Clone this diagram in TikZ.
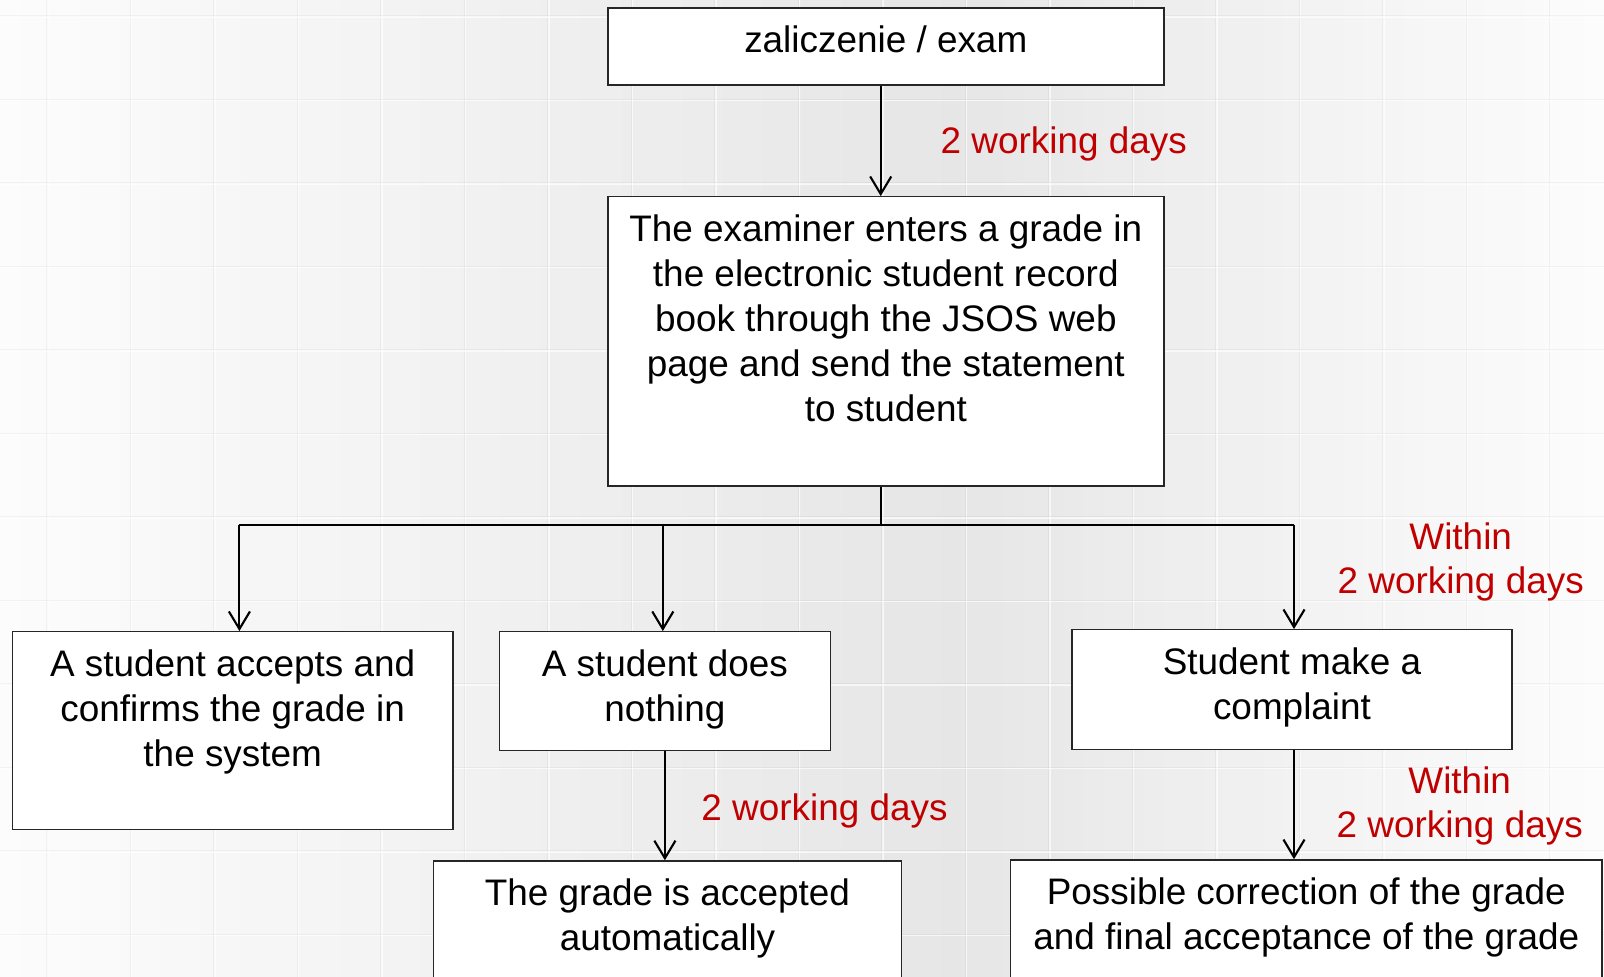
\documentclass[tikz,border=0pt]{standalone}
\usepackage{fontspec}
\setmainfont{Liberation Sans}
\usepackage{tikz}
\usetikzlibrary{positioning,arrows.meta}
\definecolor{daysred}{HTML}{C00000}
\definecolor{bgedge}{HTML}{FCFCFC}
\definecolor{bgmid}{HTML}{E6E6E6}
\tikzset{>={Straight Barb[length=5pt,width=6pt]}}
\tikzset{
  box/.style={draw=black!85, fill=white, line width=0.4pt, inner sep=0pt, anchor=north,
    font=\fontsize{10.5}{12.8}\selectfont},
  flow/.style={->, line width=0.6pt},
  link/.style={line width=0.6pt},
  days/.style={text=daysred, align=center, inner sep=0pt,
    font=\fontsize{10.5}{12.4}\selectfont},
  gridshade/.style={black, opacity=0.04, line width=0.5pt},
  gridlight/.style={white, opacity=0.7, line width=0.4pt},
}
% top aligned box text: width, height, text
\newcommand{\boxtext}[3]{\parbox[t][#2][t]{#1}{\centering\vspace*{5.1pt}#3}}

\begin{document}
\begin{tikzpicture}

  % START: Background -------------------------------
  \useasboundingbox (0,0) rectangle (16.04,-9.77);
  \clip (0,0) rectangle (16.04,-9.77);
  \foreach \k in {0,...,79} {
    \pgfmathsetmacro{\p}{\k<47 ? 100*\k/47 : 100*(79-\k)/32}
    \fill[bgmid!\p!bgedge] ({0.2005*\k},0) rectangle ++(0.21,-9.77);
  }
  \foreach \i in {0,...,18} {
    \draw[gridshade] ({0.47+0.835*\i},0) -- ++(0,-9.77);
    \draw[gridlight] ({0.48+0.835*\i},0) -- ++(0,-9.77);
  }
  \foreach \j in {0,...,11} {
    \draw[gridshade] (0,{-0.16-0.835*\j}) -- ++(16.04,0);
    \draw[gridlight] (0,{-0.17-0.835*\j}) -- ++(16.04,0);
  }
  % END: Background ---------------------------------

  % START: Top --------------------------------------
  \node[box] (exam) at (8.858,-0.072) {\boxtext{5.56cm}{0.77cm}{zaliczenie / exam}};
  \node[box, below=1.105cm of exam] (enter) {\boxtext{5.56cm}{2.894cm}{The examiner enters a grade in\\
    the electronic student record\\ book through the JSOS web\\ page and send the statement\\ to student}};
  % END: Top ----------------------------------------

  % START: Split ------------------------------------
  \coordinate (trunk) at ([xshift=-0.051cm]enter.south);
  \coordinate[below=0.379cm of trunk] (split);
  \coordinate[left=6.413cm of split] (split_l);
  \coordinate[left=2.179cm of split] (split_m);
  \coordinate[right=4.133cm of split] (split_r);
  % END: Split --------------------------------------

  % START: Below ------------------------------------
  % Level 1
  \node[box] (accept) at (2.327,-6.311) {\boxtext{4.408cm}{1.975cm}{A student accepts and\\ confirms the grade in\\ the system}};
  \node[box] (nothing) at (6.649,-6.311) {\boxtext{3.314cm}{1.187cm}{A student does\\ nothing}};
  \node[box] (complaint) at (12.92,-6.291) {\boxtext{4.399cm}{1.197cm}{Student make a\\ complaint}};
  % Level 2
  \node[box] (auto) at (6.675,-8.603) {\boxtext{4.675cm}{1.6cm}{The grade is accepted\\ automatically}};
  \node[box] (correct) at (13.063,-8.592) {\boxtext{5.913cm}{1.6cm}{Possible correction of the grade\\ and final acceptance of the grade}};
  % END: Below --------------------------------------

  % connectors
  \draw[flow] (trunk |- exam.south) -- (trunk |- enter.north);
  \draw[link] (trunk) -- (split);
  \draw[link] (split_l) -- (split_r);
  \draw[flow] (split_l) -- (split_l |- accept.north);
  \draw[flow] (split_m) -- (split_m |- nothing.north);
  \draw[flow] (split_r) -- (split_r |- complaint.north);
  \draw[flow] (nothing) -- (nothing |- auto.north);
  \draw[flow] (split_r |- complaint.south) -- (split_r |- correct.north);

  % time limits
  \node[days] (days_exam) at (10.638,-1.442) {2 working days};
  \node[days] (days_complaint) at (14.607,-5.62) {Within\\ 2 working days};
  \node[days] (days_nothing) at (8.245,-8.111) {2 working days};
  \node[days] (days_correct) at (14.597,-8.06) {Within\\ 2 working days};

\end{tikzpicture}
\end{document}
